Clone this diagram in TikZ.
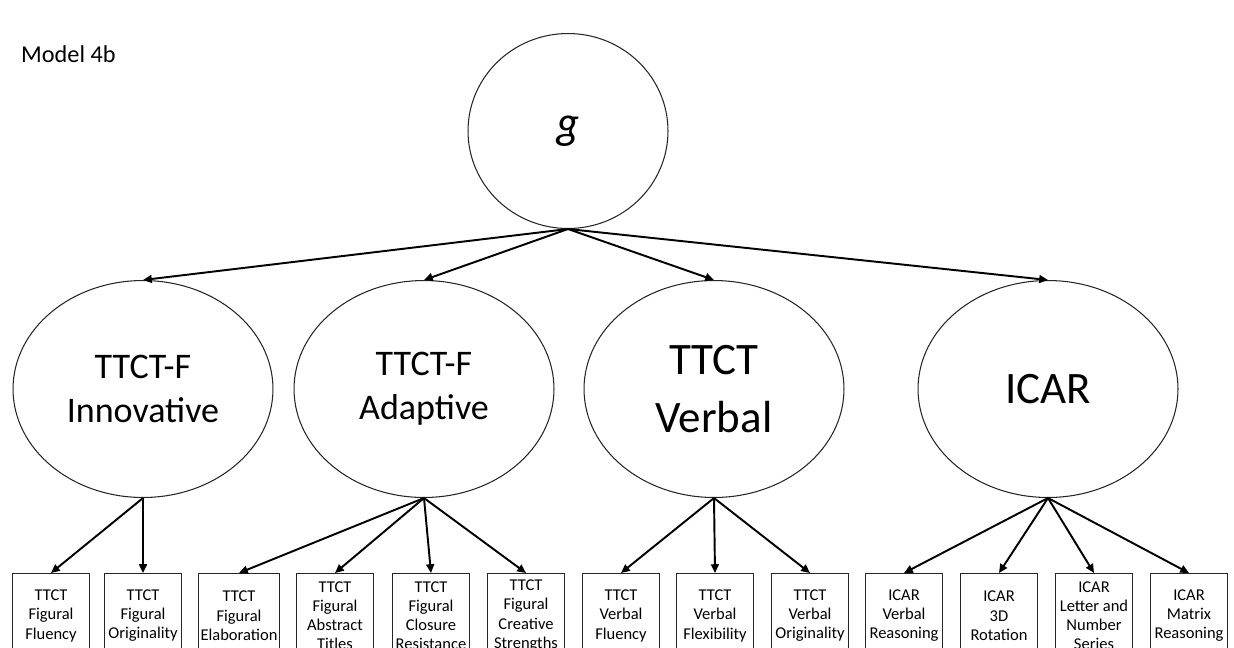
\documentclass[tikz,border=0pt]{standalone}
\usepackage{fontspec}
\setmainfont{Carlito}
\newfontfamily\gfont{Lato}
\usetikzlibrary{shapes.geometric,arrows.meta}
\tikzset{
  latent/.style={ellipse, draw=black!85, line width=0.6pt, minimum width=5.2cm, minimum height=4.34cm, align=center, inner sep=0pt},
  indicator/.style={rectangle, draw=black!85, line width=0.8pt, minimum width=1.54cm, minimum height=1.68cm, align=center, anchor=north, inner sep=1pt, font=\fontsize{9.4}{11}\selectfont},
  load/.style={-{Triangle[length=5pt,width=4.5pt]}, line width=1.1pt}
}
\begin{document}
\begin{tikzpicture}[x=0.02cm,y=-0.02cm]
\clip (0,0) rectangle (1234,647);
\node[anchor=base west, font=\fontsize{13.8}{16}\selectfont] (title) at (15,62) {Model 4b};
\node[latent, minimum width=4.0cm, minimum height=3.9cm, font=\fontsize{25}{30}\gfont\itshape] (g) at (568,131) {g};
\node[latent, font=\fontsize{20.5}{25}\selectfont] (inno) at (143,389) {TTCT-F\\Innovative};
\node[latent, font=\fontsize{20.5}{25}\selectfont] (adap) at (424,389) {TTCT-F\\Adaptive};
\node[latent, font=\fontsize{25.6}{33}\selectfont] (verb) at (714,389) {TTCT\\Verbal};
\node[latent, font=\fontsize{25.6}{33}\selectfont] (icar) at (1048,389) {ICAR};
\node[indicator] (ffl) at (51,573) {TTCT\\Figural\\Fluency};
\node[indicator] (for) at (143,573) {TTCT\\Figural\\Originality};
\node[indicator] (fel) at (239,573) {TTCT\\Figural\\Elaboration};
\node[indicator] (fat) at (335,573) {TTCT\\Figural\\Abstract\\Titles};
\node[indicator] (fcr) at (431,573) {TTCT\\Figural\\Closure\\Resistance};
\node[indicator] (fcs) at (526,573) {TTCT\\Figural\\Creative\\Strengths};
\node[indicator] (vfl) at (621,573) {TTCT\\Verbal\\Fluency};
\node[indicator] (vfx) at (715,573) {TTCT\\Verbal\\Flexibility};
\node[indicator] (vor) at (810,573) {TTCT\\Verbal\\Originality};
\node[indicator] (ivr) at (904,573) {ICAR\\Verbal\\Reasoning};
\node[indicator] (i3d) at (999,573) {ICAR\\3D\\Rotation};
\node[indicator] (ils) at (1094,573) {ICAR\\Letter and\\Number\\Series};
\node[indicator] (imr) at (1189,573) {ICAR\\Matrix\\Reasoning};
\foreach \f in {inno,adap,verb,icar}
  \draw[load] (g.south) -- (\f.north);
\foreach \i in {ffl,for}
  \draw[load] (inno.south) -- (\i.north);
\foreach \i in {fel,fat,fcr,fcs}
  \draw[load] (adap.south) -- (\i.north);
\foreach \i in {vfl,vfx,vor}
  \draw[load] (verb.south) -- (\i.north);
\foreach \i in {ivr,i3d,ils,imr}
  \draw[load] (icar.south) -- (\i.north);
\end{tikzpicture}
\end{document}
